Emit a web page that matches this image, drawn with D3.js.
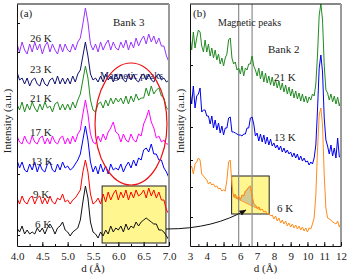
<!DOCTYPE html>
<html>
<head>
<meta charset="utf-8">
<script src="https://cdn.jsdelivr.net/npm/d3@7"></script>
<style>
    body { margin: 0; background: #fff; }
    svg text { font-family: 'Liberation Serif', 'Times New Roman', serif; fill: #222; }
</style>
</head>
<body>
<svg id="chart" width="349" height="278"></svg>
<script>
// ---- data: panel (a), Bank 3 ----
const dBank3 = [4.00, 4.05, 4.10, 4.15, 4.20, 4.25, 4.30, 4.35, 4.40, 4.45, 4.50, 4.55, 4.60, 4.65, 4.70, 4.75, 4.80, 4.85, 4.90, 4.95,
    5.00, 5.05, 5.10, 5.15, 5.20, 5.25, 5.30, 5.35, 5.40, 5.45, 5.50, 5.55, 5.60, 5.65, 5.70, 5.75, 5.80, 5.85, 5.90, 5.95,
    6.00, 6.05, 6.10, 6.15, 6.20, 6.25, 6.30, 6.35, 6.40, 6.45, 6.50, 6.55, 6.60, 6.65, 6.70, 6.75, 6.80, 6.85, 6.90, 6.95, 7.00]
const bank3Labels = ['26 K', '23 K', '21 K', '17 K', '13 K', '9 K', '6 K']
const bank3K26 = [101, 97, 102, 98, 96, 101, 97, 102, 98, 101, 96, 100, 102, 97, 101, 98, 96, 101, 97, 101,
    98, 97, 101, 98, 102, 104, 111, 119, 112, 101, 98, 101, 97, 102, 98, 101, 103, 98, 102, 99,
    98, 102, 99, 103, 98, 102, 99, 104, 100, 103, 105, 101, 106, 102, 105, 101, 104, 100, 100, 95, 92]
const bank3K23 = [87, 83, 84, 81, 84, 80, 83, 84, 81, 80, 84, 81, 80, 83, 84, 81, 85, 81, 84, 81,
    84, 81, 85, 82, 86, 88, 95, 102, 95, 86, 83, 84, 82, 85, 82, 86, 83, 85, 82, 86,
    83, 86, 83, 82, 86, 83, 86, 83, 82, 85, 86, 83, 86, 83, 82, 85, 86, 83, 84, 82, 83]
const bank3K21 = [71, 68, 72, 67, 71, 68, 72, 69, 67, 71, 68, 72, 69, 70, 67, 71, 72, 68, 71, 68,
    71, 68, 72, 69, 73, 76, 83, 90, 84, 73, 68, 67, 71, 72, 69, 73, 70, 74, 71, 74,
    72, 74, 71, 75, 71, 75, 72, 76, 73, 74, 74, 79, 75, 80, 76, 78, 79, 75, 74, 69, 68]
const bank3K17 = [55, 52, 51, 55, 52, 51, 55, 52, 51, 54, 55, 51, 54, 51, 55, 52, 51, 54, 55, 51,
    54, 51, 55, 52, 56, 58, 66, 73, 66, 56, 52, 51, 55, 52, 56, 53, 57, 59, 62, 57,
    56, 52, 56, 53, 52, 56, 53, 52, 56, 55, 61, 64, 68, 62, 59, 54, 55, 52, 53, 51, 51]
const bank3K13 = [43, 39, 42, 38, 37, 41, 38, 42, 37, 41, 38, 37, 41, 42, 38, 37, 41, 38, 42, 39,
    40, 38, 39, 41, 43, 46, 53, 60, 53, 42, 37, 40, 36, 41, 37, 40, 36, 41, 38, 39,
    38, 41, 37, 40, 42, 39, 43, 40, 44, 43, 48, 49, 47, 51, 46, 46, 43, 43, 39, 37, 34]
const bank3K9 = [24, 21, 25, 22, 21, 24, 25, 21, 24, 25, 21, 24, 21, 25, 22, 21, 24, 23, 26, 22,
    23, 21, 23, 24, 26, 28, 37, 43, 37, 26, 21, 22, 24, 21, 26, 22, 27, 23, 26, 28,
    23, 27, 24, 28, 23, 27, 24, 28, 25, 26, 28, 24, 29, 25, 28, 24, 27, 23, 23, 18, 16]
const bank3K6 = [9, 7, 10, 6, 8, 6, 7, 6, 9, 7, 9, 6, 9, 11, 9, 6, 9, 10, 12, 8,
    7, 5, 7, 8, 9, 13, 22, 30, 24, 12, 7, 6, 4, 7, 5, 8, 6, 10, 7, 9,
    8, 10, 7, 11, 8, 10, 9, 12, 10, 12, 13, 14, 13, 12, 11, 11, 8, 8, 7, 5, 3]

// ---- data: panel (b), Bank 2 ----
const dBank2 = [3.0, 3.1, 3.2, 3.3, 3.4, 3.5, 3.6, 3.7, 3.8, 3.9, 4.0, 4.1, 4.2, 4.3, 4.4, 4.5, 4.6, 4.7, 4.8, 4.9,
    5.0, 5.1, 5.2, 5.3, 5.4, 5.5, 5.6, 5.7, 5.8, 5.9, 6.0, 6.1, 6.2, 6.3, 6.4, 6.5, 6.6, 6.7, 6.8, 6.9,
    7.0, 7.1, 7.2, 7.3, 7.4, 7.5, 7.6, 7.7, 7.8, 7.9, 8.0, 8.1, 8.2, 8.3, 8.4, 8.5, 8.6, 8.7, 8.8, 8.9,
    9.0, 9.1, 9.2, 9.3, 9.4, 9.5, 9.6, 9.7, 9.8, 9.9, 10.0, 10.1, 10.2, 10.3, 10.4, 10.5, 10.6, 10.7, 10.8, 10.9,
    11.0, 11.1, 11.2, 11.3, 11.4, 11.5, 11.6, 11.7, 11.8, 11.9, 12.0]
const bank2Labels = ['21 K', '13 K', '6 K']
const bank2K21 = [105, 98, 107, 99, 104, 108, 107, 100, 97, 103, 97, 101, 95, 99, 94, 98, 93, 96, 91, 94,
    90, 94, 96, 103, 104, 94, 91, 92, 88, 89, 86, 90, 85, 89, 88, 91, 91, 95, 90, 88,
    85, 89, 83.5, 87.5, 82, 86.5, 81.5, 85, 80.5, 84.5, 80, 83, 79, 82.5, 78, 81.5, 77, 80.5, 76, 79.5,
    75, 78.5, 74, 77.5, 73.5, 76.5, 72.5, 76, 72, 75, 71.5, 74.5, 73, 76, 75, 81, 95.5, 115.5, 121, 113,
    90.5, 78, 76.5, 73, 76, 72, 75, 71, 74.5, 70, 73]
const bank2K13 = [78, 71, 80, 69, 75, 76, 79, 67, 68, 68, 65, 65, 61, 65, 59, 63, 58, 61.5, 56.5, 60,
    55.5, 59, 59, 64, 64.5, 57, 57, 56.5, 56, 55.5, 55.5, 55, 56, 56, 59, 59, 64, 64.5, 61, 55,
    56.5, 52.5, 56, 52, 55.5, 51, 54.5, 50.5, 53.5, 50, 51.5, 49, 50.5, 48, 50, 47, 49, 46.5, 48, 46,
    47, 44.5, 46.5, 44, 46, 43, 45, 42.5, 44, 42, 42.5, 40.5, 42, 41, 44, 50.5, 68, 89, 95.5, 87,
    64, 53, 50, 46, 50.5, 45, 49, 44, 54, 44.5, 45]
const bank2K6 = [38, 40, 36, 41, 42, 44, 43, 36, 35, 34, 33, 31, 32, 30.5, 31, 29.5, 30, 28.5, 29, 27.5,
    28, 27.5, 33, 42, 43, 30.5, 24.5, 26, 23.5, 25, 23, 25.5, 25, 27.5, 28, 29.5, 30, 25, 21, 20.5,
    19, 19.5, 18, 18.5, 17, 17.5, 16, 16.5, 15, 15.5, 13.5, 15, 12.5, 14, 11.5, 13, 11, 12.5, 10, 11.5,
    9.5, 11, 9, 10.5, 8.5, 10, 8, 9.5, 7.5, 9, 7, 9, 8.5, 11, 14, 25.5, 48, 65.5, 69, 60.5,
    35.5, 19, 14, 13.5, 13, 12, 11.5, 11, 12.5, 9.5, 11.5]
const magneticPeaks = [5.9, 6.7]

const ticksA = [4.0, 4.5, 5.0, 5.5, 6.0, 6.5, 7.0]
const ticksB = [3, 4, 5, 6, 7, 8, 9, 10, 11, 12]
const yTicksA = [5.5, 36, 97, 111.5]
const yTicksB = [14.5, 29.5, 43, 59.5, 90.5]

// ---- layout ----
const svg = d3.select('#chart')
const fontSize = 11

const panelA = { left: 17, right: 169, top: 4, bottom: 246 }
const panelB = { left: 190, right: 341, top: 4, bottom: 246 }

const xA = d3.scaleLinear().domain([4, 7]).range([panelA.left, panelA.right])
const yA = d3.scaleLinear().domain([0, 121]).range([panelA.bottom, panelA.top])
const xB = d3.scaleLinear().domain([3, 12]).range([panelB.left, panelB.right])
const yB = d3.scaleLinear().domain([0, 121]).range([panelB.bottom, panelB.top])

const seriesA = [
    { label: bank3Labels[0], values: bank3K26, colour: '#9933ff', lx: 30, ly: 42 },
    { label: bank3Labels[1], values: bank3K23, colour: '#10106e', lx: 30, ly: 73 },
    { label: bank3Labels[2], values: bank3K21, colour: '#1f8a1f', lx: 30, ly: 102 },
    { label: bank3Labels[3], values: bank3K17, colour: '#ff00ff', lx: 30, ly: 136 },
    { label: bank3Labels[4], values: bank3K13, colour: '#0000ff', lx: 31, ly: 165 },
    { label: bank3Labels[5], values: bank3K9, colour: '#ff0000', lx: 33, ly: 198 },
    { label: bank3Labels[6], values: bank3K6, colour: '#111111', lx: 35, ly: 228 }
]
const seriesB = [
    { label: bank2Labels[0], values: bank2K21, colour: '#228b22', lx: 274, ly: 81 },
    { label: bank2Labels[1], values: bank2K13, colour: '#0000ee', lx: 274, ly: 141 },
    { label: bank2Labels[2], values: bank2K6, colour: '#ff8c1a', lx: 277, ly: 212 }
]

// annotation regions in data units
const zoomBoxA = { d: [5.68, 6.94], v: [1.5, 30] }
const zoomBoxB = { d: [5.48, 7.72], v: [16, 35] }
const ringA = { d: 6.25, v: 61, rd: 0.71, rv: 30.5 }
const shadeRange = [5.6, 7.2]

const defs = svg.append('defs')
const addClip = (id, p) => defs.append('clipPath').attr('id', id)
    .append('rect')
    .attr('x', p.left).attr('y', p.top)
    .attr('width', p.right - p.left).attr('height', p.bottom - p.top)
addClip('clipA', panelA)
addClip('clipB', panelB)

defs.append('marker')
    .attr('id', 'arrow')
    .attr('viewBox', '0 0 10 10')
    .attr('refX', 9).attr('refY', 5)
    .attr('markerWidth', 7).attr('markerHeight', 7)
    .attr('orient', 'auto')
    .append('path')
    .attr('d', 'M0,1 L10,5 L0,9 Z')
    .attr('fill', '#111')

const drawAxes = ({ x, y, box, ticks, minor, yTicks, format }) => {
    svg.append('line')
        .attr('x1', box.left).attr('x2', box.right)
        .attr('y1', box.top).attr('y2', box.top)
        .attr('stroke', '#111').attr('stroke-width', 1.2)
    svg.append('line')
        .attr('x1', box.right).attr('x2', box.right)
        .attr('y1', box.top).attr('y2', box.bottom)
        .attr('stroke', '#9a9a9a').attr('stroke-width', 2)

    svg.append('g')
        .attr('transform', `translate(0,${box.bottom})`)
        .call(d3.axisBottom(x).tickValues(minor).tickSize(-2).tickSizeOuter(0).tickFormat(''))
        .call(g => g.select('.domain').remove())

    const gx = svg.append('g')
        .attr('transform', `translate(0,${box.bottom})`)
        .call(d3.axisBottom(x).tickValues(ticks).tickSize(-4).tickSizeOuter(0).tickPadding(6).tickFormat(format))
    gx.selectAll('text').attr('font-size', fontSize).attr('font-family', null)

    svg.append('g')
        .attr('transform', `translate(${box.left},0)`)
        .call(d3.axisLeft(y).tickValues(yTicks).tickSize(-3).tickSizeOuter(0).tickFormat(''))

    svg.selectAll('.domain, .tick line').attr('stroke', '#111')

    svg.append('text')
        .attr('transform', `translate(${(box.left + box.right) / 2},272)`)
        .attr('text-anchor', 'middle')
        .attr('font-size', fontSize)
        .text('d (Å)')

    svg.append('text')
        .attr('transform', `translate(${box.left - 6},121) rotate(-90)`)
        .attr('text-anchor', 'middle')
        .attr('font-size', fontSize)
        .text('Intensity (a.u.)')
}

const drawTraces = (series, dValues, x, y, clip) => {
    const line = d3.line()
        .x((v, i) => x(dValues[i]))
        .y(v => y(v))

    svg.append('g')
        .attr('clip-path', `url(#${clip})`)
        .selectAll('path')
        .data(series)
        .join('path')
        .attr('d', s => line(s.values))
        .attr('fill', 'none')
        .attr('stroke', s => s.colour)
        .attr('stroke-width', 1)
        .attr('stroke-linejoin', 'round')

    svg.append('g')
        .selectAll('text')
        .data(series)
        .join('text')
        .attr('x', s => s.lx)
        .attr('y', s => s.ly)
        .attr('font-size', fontSize)
        .text(s => s.label)
}

const drawBox = (b, x, y) => svg.append('rect')
    .attr('x', x(b.d[0]))
    .attr('y', y(b.v[1]))
    .attr('width', x(b.d[1]) - x(b.d[0]))
    .attr('height', y(b.v[0]) - y(b.v[1]))
    .attr('fill', '#fff68f')
    .attr('stroke', '#222')
    .attr('stroke-width', 1)

// ---- panel (a) ----
drawBox(zoomBoxA, xA, yA)

svg.append('text')
    .attr('x', 100).attr('y', 79)
    .attr('font-size', 10)
    .style('fill', '#23235a')
    .text('Magnetic peaks')

drawTraces(seriesA, dBank3, xA, yA, 'clipA')

svg.append('ellipse')
    .attr('cx', xA(ringA.d))
    .attr('cy', yA(ringA.v))
    .attr('rx', xA(ringA.d + ringA.rd) - xA(ringA.d))
    .attr('ry', yA(0) - yA(ringA.rv))
    .attr('fill', 'none')
    .attr('stroke', '#ee1111')
    .attr('stroke-width', 1.2)

drawAxes({
    x: xA, y: yA, box: panelA, ticks: ticksA,
    minor: d3.range(4, 7.001, 0.25), yTicks: yTicksA, format: d3.format('.1f')
})

svg.append('text').attr('x', 20).attr('y', 17).attr('font-size', fontSize).text('(a)')
svg.append('text').attr('x', 113).attr('y', 26).attr('font-size', fontSize).text('Bank 3')

// ---- panel (b) ----
drawBox(zoomBoxB, xB, yB)

const shaded = dBank2
    .map((d, i) => [d, bank2K6[i]])
    .filter(p => p[0] >= shadeRange[0] - 1e-9 && p[0] <= shadeRange[1] + 1e-9)
svg.append('path')
    .attr('d', d3.line().x(p => xB(p[0])).y(p => yB(p[1]))(shaded) + 'Z')
    .attr('fill', '#9a9a9a')
    .attr('fill-opacity', 0.45)
    .attr('stroke', '#ff8c1a')
    .attr('stroke-width', 0.8)

svg.append('g')
    .selectAll('line')
    .data(magneticPeaks)
    .join('line')
    .attr('x1', d => xB(d)).attr('x2', d => xB(d))
    .attr('y1', panelB.top).attr('y2', panelB.bottom)
    .attr('stroke', '#8c8c8c')
    .attr('stroke-width', 1.2)

drawTraces(seriesB, dBank2, xB, yB, 'clipB')

drawAxes({
    x: xB, y: yB, box: panelB, ticks: ticksB,
    minor: d3.range(3, 12.001, 0.5), yTicks: yTicksB, format: d3.format('d')
})

svg.append('text').attr('x', 193).attr('y', 17).attr('font-size', fontSize).text('(b)')
svg.append('text').attr('x', 218).attr('y', 26).attr('font-size', 10).text('Magnetic peaks')
svg.append('text').attr('x', 268).attr('y', 53).attr('font-size', fontSize).text('Bank 2')

// ---- connector from the (a) box to the (b) box ----
const start = [xA(zoomBoxA.d[1]), yA(8.5)]
const end = [xB(6.33), yB(18)]
svg.append('path')
    .attr('d', `M${start[0]},${start[1]} C${start[0] + 34},${start[1]} ${end[0] - 21},${end[1] + 12} ${end[0]},${end[1]}`)
    .attr('fill', 'none')
    .attr('stroke', '#111')
    .attr('stroke-width', 1)
    .attr('marker-end', 'url(#arrow)')
</script>
</body>
</html>
